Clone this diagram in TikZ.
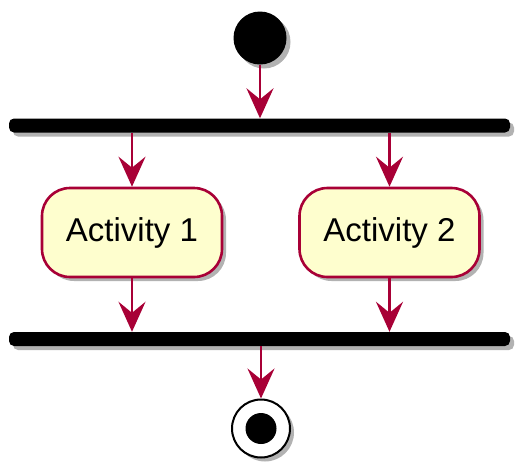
\documentclass[tikz,border=0pt]{standalone}
\usepackage{fontspec}
\setmainfont{Liberation Sans}
\usetikzlibrary{arrows.meta,shadows}
\definecolor{umlred}{HTML}{A80036}
\definecolor{umlfill}{HTML}{FEFECE}
\tikzset{
  shad/.style={drop shadow={shadow xshift=4pt,shadow yshift=-4pt,fill=black,opacity=0.3}},
  actbox/.style={draw=umlred,line width=2.6pt,fill=umlfill,rounded corners=28pt,
    minimum width=180pt,minimum height=89pt,inner sep=0pt,font=\fontsize{33}{36}\selectfont,shad},
  barbox/.style={fill=black,rounded corners=5pt,minimum width=501pt,minimum height=14pt,inner sep=0pt,shad},
  arr/.style={draw=umlred,line width=2.6pt,-{Stealth[length=30pt,width=27pt,inset=11pt]}},
}
\begin{document}
\begin{tikzpicture}[x=1pt,y=-1pt]
\useasboundingbox (0,0) rectangle (519,464);
\node[circle,fill=black,minimum size=53pt,inner sep=0pt,shad] (start) at (260,38) {};
\node[barbox] (fork) at (259.5,125.5) {};
\node[actbox] (a1) at (132,232.5) {Activity 1};
\node[actbox] (a2) at (389.5,232.5) {Activity 2};
\node[barbox] (join) at (259.5,339) {};
\node[circle,draw=black,line width=2pt,fill=white,minimum size=58pt,inner sep=0pt,shad] (end) at (261,428.5) {};
\node[circle,fill=black,minimum size=31pt,inner sep=0pt] (endin) at (end.center) {};
\draw[arr] (start.south) -- (start.south |- fork.north);
\draw[arr] (fork.south -| a1.north) -- (a1.north);
\draw[arr] (fork.south -| a2.north) -- (a2.north);
\draw[arr] (a1.south) -- (a1.south |- join.north);
\draw[arr] (a2.south) -- (a2.south |- join.north);
\draw[arr] (join.south -| end.north) -- (end.north);
\end{tikzpicture}
\end{document}
